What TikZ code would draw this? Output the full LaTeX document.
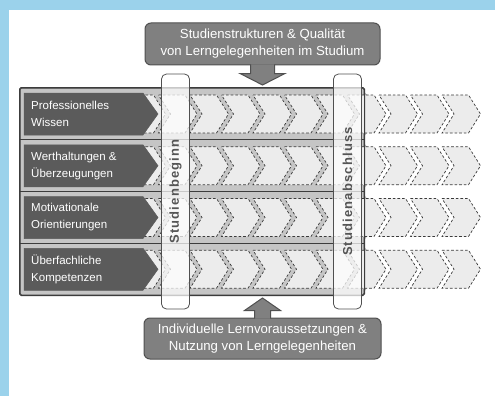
\documentclass[tikz,border=0pt]{standalone}
\usepackage{fontspec}
\setmainfont{Liberation Sans}
\newfontfamily\barfont[LetterSpace=9]{Liberation Sans}
\usetikzlibrary{calc}
\definecolor{blueb}{RGB}{155,210,235}
\definecolor{framegray}{RGB}{197,197,197}
\definecolor{framedark}{RGB}{60,60,60}
\definecolor{lblgray}{RGB}{91,91,91}
\definecolor{chevfill}{RGB}{236,236,236}
\definecolor{chevline}{RGB}{58,58,58}
\definecolor{boxgray}{RGB}{128,128,128}
\definecolor{boxline}{RGB}{80,80,80}
\definecolor{bartext}{RGB}{85,85,85}
\definecolor{tipgray}{RGB}{185,185,185}
\tikzset{
  chev/.style={fill=chevfill, draw=chevline, line width=0.7pt, dash pattern=on 2.6pt off 2pt},
  lblshape/.style={fill=lblgray, draw=lblgray, line width=0.5pt},
  lbltext/.style={anchor=west, text=white, align=left, inner sep=0pt,
    font=\fontsize{11.5}{17}\selectfont},
  framebox/.style={fill=framegray, draw=framedark, line width=1pt, rounded corners=1.5pt,
    minimum width=344pt, minimum height=207pt, inner sep=0pt},
  rowline/.style={draw=framedark, line width=1pt},
  barbox/.style={fill=white, fill opacity=0.72, draw=boxline, draw opacity=1, line width=0.8pt,
    rounded corners=5pt, minimum width=28pt, minimum height=235pt, inner sep=0pt},
  bartxt/.style={rotate=90, text=bartext, inner sep=0pt,
    font=\barfont\bfseries\fontsize{13}{14}\selectfont},
  infobox/.style={fill=boxgray, draw=boxline, line width=1pt, rounded corners=6pt,
    text=white, align=center, inner sep=0pt,
    font=\fontsize{13.2}{17}\selectfont},
  blockarrow/.style={fill=boxgray, draw=boxline, line width=1pt, line join=miter},
}
\begin{document}
\begin{tikzpicture}[x=1pt, y=-1pt]
% background
\fill[blueb] (0,0) rectangle (495,396);
\fill[white] (9,10) rectangle (495,396);
\useasboundingbox (0,0) rectangle (495,396);

% frame
\node[framebox] (frame) at (192,191.5) {};
% gray tips beyond frame
\foreach \r in {0,...,3} {
  \pgfmathsetmacro\ym{114+51.75*\r}
  \fill[tipgray] (frame.east |- 0,\ym-22) -- (383,\ym) -- (frame.east |- 0,\ym+22) -- cycle;
}
% chevrons
\foreach \r in {0,...,3} {
  \pgfmathsetmacro\ym{114+51.75*\r}
  \foreach \k in {0,...,10} {
    \pgfmathsetmacro\xo{127+31.5*\k}
    \draw[chev] (\xo,\ym-19) -- ++(26.5,0) -- ++(12,19) -- ++(-12,19) -- ++(-26.5,0) -- ++(12,-19) -- cycle;
  }
}
% row dividers
\coordinate (d1) at (20,139.75);
\coordinate (d2) at (20,191.5);
\coordinate (d3) at (20,243.25);
\foreach \d in {d1,d2,d3} {
  \draw[rowline] (\d) -- (\d -| frame.east);
}
\draw[framedark, line width=1pt, rounded corners=1.5pt] (frame.north west) rectangle (frame.south east);

% labels
\foreach \r/\txt in {0/{Professionelles\\Wissen}, 1/{Werthaltungen \&\\Überzeugungen},
                     2/{Motivationale\\Orientierungen}, 3/{Überfachliche\\Kompetenzen}} {
  \pgfmathsetmacro\ym{114+51.75*\r}
  \fill[lblshape] (24,\ym-21) -- (143,\ym-21) -- (158,\ym) -- (143,\ym+21) -- (24,\ym+21) -- cycle;
  \node[lbltext] (lbl\r) at (31,\ym) {\txt};
}

% vertical bars
\node[barbox] (beginn) at (175.5,191.5) {};
\node[bartxt] (beginntxt) at (beginn.center) {Studienbeginn};
\node[barbox] (abschluss) at (347.5,191.5) {};
\node[bartxt] (abschlusstxt) at (abschluss.center) {Studienabschluss};

% top box and arrow
\node[infobox, minimum width=235pt, minimum height=42pt] (top) at (262.5,44)
  {Studienstrukturen \& Qualität\\von Lerngelegenheiten im Studium};
\draw[blockarrow] ($(top.south)+(-12,-1)$) -- ++(0,9) -- ++(-10.5,0) -- ($(top.south)+(0,19.5)$)
  -- ($(top.south)+(22.5,8)$) -- ++(-10.5,0) -- ++(0,-9);

% bottom box and arrow
\node[infobox, minimum width=237pt, minimum height=41pt] (bottom) at (262.5,338.5)
  {Individuelle Lernvoraussetzungen \&\\Nutzung von Lerngelegenheiten};
\draw[blockarrow] ($(bottom.north)+(-8,1)$) -- ++(0,-8) -- ++(-10,0) -- ($(bottom.north)+(0,-19.5)$)
  -- ($(bottom.north)+(18,-7)$) -- ++(-10,0) -- ++(0,8);
\end{tikzpicture}
\end{document}
